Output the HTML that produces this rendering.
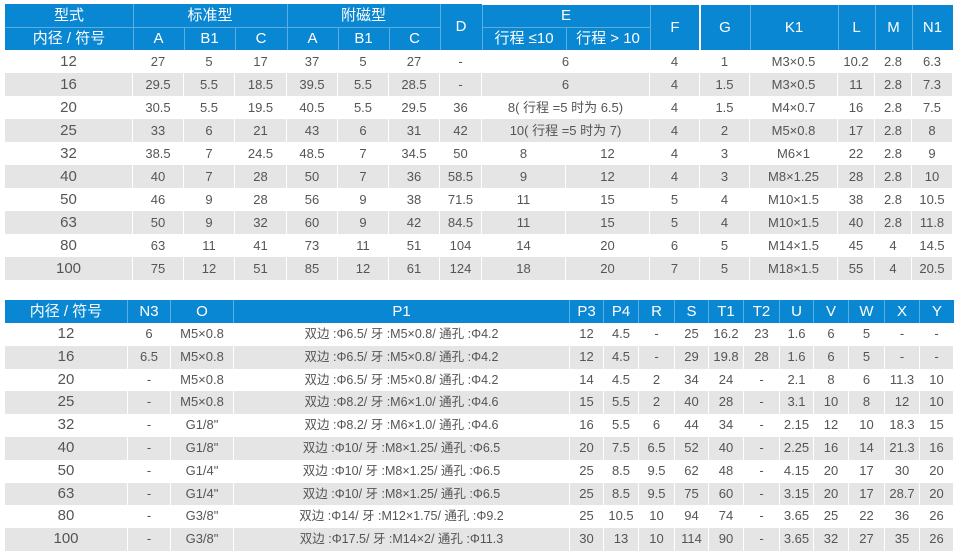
<!DOCTYPE html>
<html>
<head>
<meta charset="utf-8">
<style>
html,body{margin:0;padding:0;background:#fff;}
body{width:959px;height:560px;position:relative;overflow:hidden;font-family:"Liberation Sans","Noto Sans CJK SC",sans-serif;color:#555;}
.h{position:absolute;background:#0a87d2;}
.hc{position:absolute;color:#fff;font-size:15px;text-align:center;white-space:nowrap;}
.ln{position:absolute;background:#5aaee2;}
.row{position:absolute;left:5px;display:flex;font-size:13px;white-space:nowrap;}
.row span{display:block;flex:none;box-sizing:border-box;text-align:center;border-right:1px solid #fff;}
.row span:first-child{font-size:15px;}
.g{background:#e5e5e5;}
.t{height:23px;line-height:23px;width:948px;}
.b{height:22.8px;line-height:22.8px;width:949px;}
/* top widths */
.w128{width:128px}.w51{width:51px}.w52{width:52px}.w42{width:42px}.w84{width:84px}.w168{width:168px}.w50{width:50px}.w88{width:88px}.w37{width:37px}.w41{width:41px}
/* bottom widths */
.b .c1{width:123px}.b .c2{width:43px}.b .c3{width:63px}.b .c4{width:336px;font-size:12.5px}
.w34{width:34px}.w35{width:35px}.w36{width:36px}
.bh{position:absolute;left:5px;top:300px;height:23px;line-height:23px;width:949px;display:flex;background:#0a87d2;color:#fff;font-size:15px;}
.bh span{display:block;flex:none;box-sizing:border-box;text-align:center;border-right:1px solid #5aaee2;}
.bh span:last-child{border-right:none;}
</style>
</head>
<body>
<!-- TOP TABLE HEADER -->
<div class="h" style="left:5px;top:4px;width:456px;height:46px;"></div>
<div class="h" style="left:461px;top:5px;width:492px;height:45px;"></div>
<div class="h" style="left:461px;top:4px;width:21px;height:1px;"></div>

<div class="ln" style="left:5px;top:27px;width:435px;height:1px;"></div>
<div class="ln" style="left:482px;top:27px;width:168px;height:1px;"></div>
<div class="ln" style="left:133px;top:4px;width:1px;height:46px;"></div>
<div class="ln" style="left:287px;top:4px;width:1px;height:46px;"></div>
<div class="ln" style="left:184px;top:27px;width:1px;height:23px;"></div>
<div class="ln" style="left:235px;top:27px;width:1px;height:23px;"></div>
<div class="ln" style="left:338px;top:27px;width:1px;height:23px;"></div>
<div class="ln" style="left:389px;top:27px;width:1px;height:23px;"></div>
<div class="ln" style="left:440px;top:4px;width:1px;height:46px;"></div>
<div class="ln" style="left:482px;top:5px;width:1px;height:45px;"></div>
<div class="ln" style="left:566px;top:27px;width:1px;height:23px;"></div>
<div class="ln" style="left:650px;top:5px;width:1px;height:45px;"></div>
<div style="position:absolute;left:699px;top:5px;width:2px;height:45px;background:#fff;"></div>
<div class="ln" style="left:750px;top:5px;width:1px;height:45px;"></div>
<div class="ln" style="left:838px;top:5px;width:1px;height:45px;"></div>
<div class="ln" style="left:875px;top:5px;width:1px;height:45px;"></div>
<div class="ln" style="left:912px;top:5px;width:1px;height:45px;"></div>

<div class="hc" style="left:5px;top:4px;width:128px;line-height:23px;">型式</div>
<div class="hc" style="left:5px;top:27px;width:128px;line-height:23px;">内径 / 符号</div>
<div class="hc" style="left:133px;top:4px;width:154px;line-height:23px;">标准型</div>
<div class="hc" style="left:287px;top:4px;width:153px;line-height:23px;">附磁型</div>
<div class="hc" style="left:133px;top:27px;width:51px;line-height:23px;">A</div>
<div class="hc" style="left:184px;top:27px;width:51px;line-height:23px;">B1</div>
<div class="hc" style="left:235px;top:27px;width:52px;line-height:23px;">C</div>
<div class="hc" style="left:287px;top:27px;width:51px;line-height:23px;">A</div>
<div class="hc" style="left:338px;top:27px;width:51px;line-height:23px;">B1</div>
<div class="hc" style="left:389px;top:27px;width:51px;line-height:23px;">C</div>
<div class="hc" style="left:440px;top:4px;width:42px;line-height:46px;">D</div>
<div class="hc" style="left:482px;top:5px;width:168px;line-height:22px;">E</div>
<div class="hc" style="left:482px;top:27px;width:84px;line-height:23px;">行程 ≤10</div>
<div class="hc" style="left:566px;top:27px;width:84px;line-height:23px;">行程 &gt; 10</div>
<div class="hc" style="left:650px;top:5px;width:50px;line-height:45px;">F</div>
<div class="hc" style="left:700px;top:5px;width:50px;line-height:45px;">G</div>
<div class="hc" style="left:750px;top:5px;width:88px;line-height:45px;">K1</div>
<div class="hc" style="left:838px;top:5px;width:37px;line-height:45px;">L</div>
<div class="hc" style="left:875px;top:5px;width:37px;line-height:45px;">M</div>
<div class="hc" style="left:912px;top:5px;width:41px;line-height:45px;">N1</div>

<!-- TOP TABLE ROWS -->
<div class="row t" style="top:50px;"><span class="w128">12</span><span class="w51">27</span><span class="w51">5</span><span class="w52">17</span><span class="w51">37</span><span class="w51">5</span><span class="w51">27</span><span class="w42">-</span><span class="w168">6</span><span class="w50">4</span><span class="w50">1</span><span class="w88">M3×0.5</span><span class="w37">10.2</span><span class="w37">2.8</span><span class="w41">6.3</span></div>
<div class="row t g" style="top:73px;"><span class="w128">16</span><span class="w51">29.5</span><span class="w51">5.5</span><span class="w52">18.5</span><span class="w51">39.5</span><span class="w51">5.5</span><span class="w51">28.5</span><span class="w42">-</span><span class="w168">6</span><span class="w50">4</span><span class="w50">1.5</span><span class="w88">M3×0.5</span><span class="w37">11</span><span class="w37">2.8</span><span class="w41">7.3</span></div>
<div class="row t" style="top:96px;"><span class="w128">20</span><span class="w51">30.5</span><span class="w51">5.5</span><span class="w52">19.5</span><span class="w51">40.5</span><span class="w51">5.5</span><span class="w51">29.5</span><span class="w42">36</span><span class="w168">8( 行程 =5 时为 6.5)</span><span class="w50">4</span><span class="w50">1.5</span><span class="w88">M4×0.7</span><span class="w37">16</span><span class="w37">2.8</span><span class="w41">7.5</span></div>
<div class="row t g" style="top:119px;"><span class="w128">25</span><span class="w51">33</span><span class="w51">6</span><span class="w52">21</span><span class="w51">43</span><span class="w51">6</span><span class="w51">31</span><span class="w42">42</span><span class="w168">10( 行程 =5 时为 7)</span><span class="w50">4</span><span class="w50">2</span><span class="w88">M5×0.8</span><span class="w37">17</span><span class="w37">2.8</span><span class="w41">8</span></div>
<div class="row t" style="top:142px;"><span class="w128">32</span><span class="w51">38.5</span><span class="w51">7</span><span class="w52">24.5</span><span class="w51">48.5</span><span class="w51">7</span><span class="w51">34.5</span><span class="w42">50</span><span class="w84">8</span><span class="w84">12</span><span class="w50">4</span><span class="w50">3</span><span class="w88">M6×1</span><span class="w37">22</span><span class="w37">2.8</span><span class="w41">9</span></div>
<div class="row t g" style="top:165px;"><span class="w128">40</span><span class="w51">40</span><span class="w51">7</span><span class="w52">28</span><span class="w51">50</span><span class="w51">7</span><span class="w51">36</span><span class="w42">58.5</span><span class="w84">9</span><span class="w84">12</span><span class="w50">4</span><span class="w50">3</span><span class="w88">M8×1.25</span><span class="w37">28</span><span class="w37">2.8</span><span class="w41">10</span></div>
<div class="row t" style="top:188px;"><span class="w128">50</span><span class="w51">46</span><span class="w51">9</span><span class="w52">28</span><span class="w51">56</span><span class="w51">9</span><span class="w51">38</span><span class="w42">71.5</span><span class="w84">11</span><span class="w84">15</span><span class="w50">5</span><span class="w50">4</span><span class="w88">M10×1.5</span><span class="w37">38</span><span class="w37">2.8</span><span class="w41">10.5</span></div>
<div class="row t g" style="top:211px;"><span class="w128">63</span><span class="w51">50</span><span class="w51">9</span><span class="w52">32</span><span class="w51">60</span><span class="w51">9</span><span class="w51">42</span><span class="w42">84.5</span><span class="w84">11</span><span class="w84">15</span><span class="w50">5</span><span class="w50">4</span><span class="w88">M10×1.5</span><span class="w37">40</span><span class="w37">2.8</span><span class="w41">11.8</span></div>
<div class="row t" style="top:234px;"><span class="w128">80</span><span class="w51">63</span><span class="w51">11</span><span class="w52">41</span><span class="w51">73</span><span class="w51">11</span><span class="w51">51</span><span class="w42">104</span><span class="w84">14</span><span class="w84">20</span><span class="w50">6</span><span class="w50">5</span><span class="w88">M14×1.5</span><span class="w37">45</span><span class="w37">4</span><span class="w41">14.5</span></div>
<div class="row t g" style="top:257px;"><span class="w128">100</span><span class="w51">75</span><span class="w51">12</span><span class="w52">51</span><span class="w51">85</span><span class="w51">12</span><span class="w51">61</span><span class="w42">124</span><span class="w84">18</span><span class="w84">20</span><span class="w50">7</span><span class="w50">5</span><span class="w88">M18×1.5</span><span class="w37">55</span><span class="w37">4</span><span class="w41">20.5</span></div>

<!-- BOTTOM TABLE HEADER -->
<div class="bh"><span style="width:123px">内径 / 符号</span><span style="width:43px">N3</span><span style="width:63px">O</span><span style="width:336px">P1</span><span class="w34">P3</span><span class="w35">P4</span><span class="w36">R</span><span class="w34">S</span><span class="w35">T1</span><span class="w36">T2</span><span class="w34">U</span><span class="w35">V</span><span class="w36">W</span><span class="w35">X</span><span class="w34">Y</span></div>

<!-- BOTTOM TABLE ROWS -->
<div class="row b" style="top:323px;"><span class="c1">12</span><span class="c2">6</span><span class="c3">M5×0.8</span><span class="c4">双边 :Φ6.5/ 牙 :M5×0.8/ 通孔 :Φ4.2</span><span class="w34">12</span><span class="w35">4.5</span><span class="w36">-</span><span class="w34">25</span><span class="w35">16.2</span><span class="w36">23</span><span class="w34">1.6</span><span class="w35">6</span><span class="w36">5</span><span class="w35">-</span><span class="w34">-</span></div>
<div class="row b g" style="top:345.8px;"><span class="c1">16</span><span class="c2">6.5</span><span class="c3">M5×0.8</span><span class="c4">双边 :Φ6.5/ 牙 :M5×0.8/ 通孔 :Φ4.2</span><span class="w34">12</span><span class="w35">4.5</span><span class="w36">-</span><span class="w34">29</span><span class="w35">19.8</span><span class="w36">28</span><span class="w34">1.6</span><span class="w35">6</span><span class="w36">5</span><span class="w35">-</span><span class="w34">-</span></div>
<div class="row b" style="top:368.6px;"><span class="c1">20</span><span class="c2">-</span><span class="c3">M5×0.8</span><span class="c4">双边 :Φ6.5/ 牙 :M5×0.8/ 通孔 :Φ4.2</span><span class="w34">14</span><span class="w35">4.5</span><span class="w36">2</span><span class="w34">34</span><span class="w35">24</span><span class="w36">-</span><span class="w34">2.1</span><span class="w35">8</span><span class="w36">6</span><span class="w35">11.3</span><span class="w34">10</span></div>
<div class="row b g" style="top:391.4px;"><span class="c1">25</span><span class="c2">-</span><span class="c3">M5×0.8</span><span class="c4">双边 :Φ8.2/ 牙 :M6×1.0/ 通孔 :Φ4.6</span><span class="w34">15</span><span class="w35">5.5</span><span class="w36">2</span><span class="w34">40</span><span class="w35">28</span><span class="w36">-</span><span class="w34">3.1</span><span class="w35">10</span><span class="w36">8</span><span class="w35">12</span><span class="w34">10</span></div>
<div class="row b" style="top:414.2px;"><span class="c1">32</span><span class="c2">-</span><span class="c3">G1/8"</span><span class="c4">双边 :Φ8.2/ 牙 :M6×1.0/ 通孔 :Φ4.6</span><span class="w34">16</span><span class="w35">5.5</span><span class="w36">6</span><span class="w34">44</span><span class="w35">34</span><span class="w36">-</span><span class="w34">2.15</span><span class="w35">12</span><span class="w36">10</span><span class="w35">18.3</span><span class="w34">15</span></div>
<div class="row b g" style="top:437px;"><span class="c1">40</span><span class="c2">-</span><span class="c3">G1/8"</span><span class="c4">双边 :Φ10/ 牙 :M8×1.25/ 通孔 :Φ6.5</span><span class="w34">20</span><span class="w35">7.5</span><span class="w36">6.5</span><span class="w34">52</span><span class="w35">40</span><span class="w36">-</span><span class="w34">2.25</span><span class="w35">16</span><span class="w36">14</span><span class="w35">21.3</span><span class="w34">16</span></div>
<div class="row b" style="top:459.8px;"><span class="c1">50</span><span class="c2">-</span><span class="c3">G1/4"</span><span class="c4">双边 :Φ10/ 牙 :M8×1.25/ 通孔 :Φ6.5</span><span class="w34">25</span><span class="w35">8.5</span><span class="w36">9.5</span><span class="w34">62</span><span class="w35">48</span><span class="w36">-</span><span class="w34">4.15</span><span class="w35">20</span><span class="w36">17</span><span class="w35">30</span><span class="w34">20</span></div>
<div class="row b g" style="top:482.6px;"><span class="c1">63</span><span class="c2">-</span><span class="c3">G1/4"</span><span class="c4">双边 :Φ10/ 牙 :M8×1.25/ 通孔 :Φ6.5</span><span class="w34">25</span><span class="w35">8.5</span><span class="w36">9.5</span><span class="w34">75</span><span class="w35">60</span><span class="w36">-</span><span class="w34">3.15</span><span class="w35">20</span><span class="w36">17</span><span class="w35">28.7</span><span class="w34">20</span></div>
<div class="row b" style="top:505.4px;"><span class="c1">80</span><span class="c2">-</span><span class="c3">G3/8"</span><span class="c4">双边 :Φ14/ 牙 :M12×1.75/ 通孔 :Φ9.2</span><span class="w34">25</span><span class="w35">10.5</span><span class="w36">10</span><span class="w34">94</span><span class="w35">74</span><span class="w36">-</span><span class="w34">3.65</span><span class="w35">25</span><span class="w36">22</span><span class="w35">36</span><span class="w34">26</span></div>
<div class="row b g" style="top:528.2px;"><span class="c1">100</span><span class="c2">-</span><span class="c3">G3/8"</span><span class="c4">双边 :Φ17.5/ 牙 :M14×2/ 通孔 :Φ11.3</span><span class="w34">30</span><span class="w35">13</span><span class="w36">10</span><span class="w34">114</span><span class="w35">90</span><span class="w36">-</span><span class="w34">3.65</span><span class="w35">32</span><span class="w36">27</span><span class="w35">35</span><span class="w34">26</span></div>
</body>
</html>
